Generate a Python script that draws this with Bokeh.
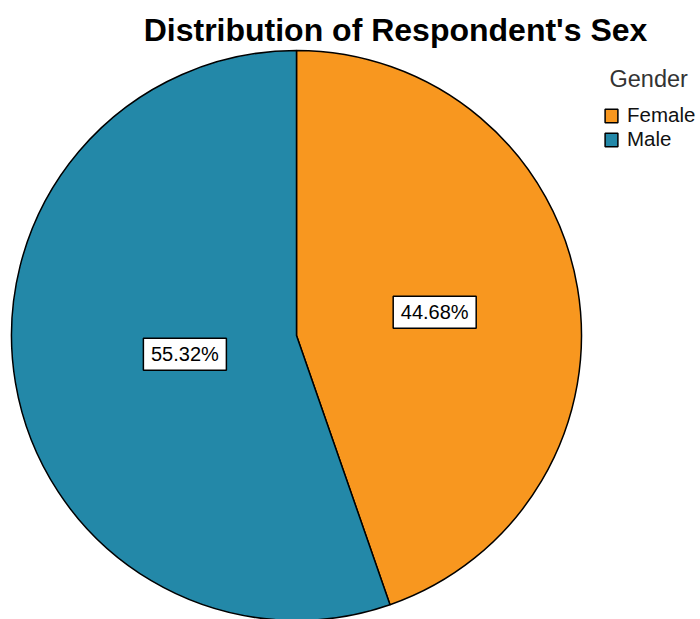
import math
import numpy as np
from bokeh.plotting import figure
from bokeh.models import ColumnDataSource, Legend, LegendItem, Label, Range1d
from bokeh.core.properties import value
from bokeh.embed import file_html
from bokeh.resources import INLINE

# ---- data ----
categories = ["Female", "Male"]
percents = [44.68, 55.32]
colors = ["#F8971F", "#2388A8"]
title_text = "Distribution of Respondent's Sex"
legend_title = "Gender"

# ---- layout ----
W, H = 700, 619
cx, cy, R = 296, H - 335, 285
FONT = "Liberation Sans"

p = figure(width=W, height=H, output_backend="svg", toolbar_location=None,
           x_range=Range1d(0, W), y_range=Range1d(0, H),
           x_axis_location=None, y_axis_location=None, min_border=0)
p.grid.visible = False
p.outline_line_color = None
p.background_fill_color = "white"
p.border_fill_color = "white"

frac = np.array(percents) / sum(percents)
theta1 = np.cumsum(frac) * 2 * math.pi        # clockwise from top
theta0 = theta1 - frac * 2 * math.pi
start = math.pi / 2 - theta0
end = math.pi / 2 - theta1
mid = (theta0 + theta1) / 2
span = theta1 - theta0
# centroid distance of a circular sector (slightly pushed outward)
dist = 1.05 * 2 * R * np.sin(span / 2) / (3 * span / 2)
lx = cx + dist * np.sin(mid)
ly = cy + dist * np.cos(mid)
labels = [f"{v:.2f}%" for v in percents]

src = ColumnDataSource(dict(cat=categories, start=start, end=end, color=colors,
                            x=[cx] * len(categories), y=[cy] * len(categories),
                            lx=lx, ly=ly, lab=labels))

r = p.wedge(x="x", y="y", radius=R, start_angle="start", end_angle="end",
            direction="clock", fill_color="color", line_color="black",
            line_width=1.5, source=src)

p.rect(x="lx", y="ly", width=83, height=32, width_units="screen",
       height_units="screen", fill_color="white", line_color="black",
       line_width=1.5, source=src)
p.text(x="lx", y="ly", text="lab", text_align="center", text_baseline="middle",
       text_font=value(FONT), text_font_size="20px", text_color="black",
       source=src)

p.add_layout(Label(x=395, y=H - 29, text=title_text, text_align="center",
                   text_baseline="alphabetic", text_font=FONT,
                   text_font_size="32px", text_font_style="bold",
                   text_color="black"))

p.add_layout(Label(x=609, y=H - 78, text=legend_title, text_align="left",
                   text_baseline="alphabetic", text_font=FONT,
                   text_font_size="23.5px", text_color="#333333"))

legend = Legend(items=[LegendItem(label=c, renderers=[r], index=i)
                       for i, c in enumerate(categories)],
                location=(603, H - 151),
                label_text_font=FONT, label_text_font_size="20.5px",
                label_text_color="#111111",
                glyph_width=16, glyph_height=17, label_height=17,
                spacing=0, padding=0, margin=0, label_standoff=8,
                border_line_color=None, background_fill_alpha=0)
p.add_layout(legend)

open("out.html", "w").write(file_html(p, INLINE))
